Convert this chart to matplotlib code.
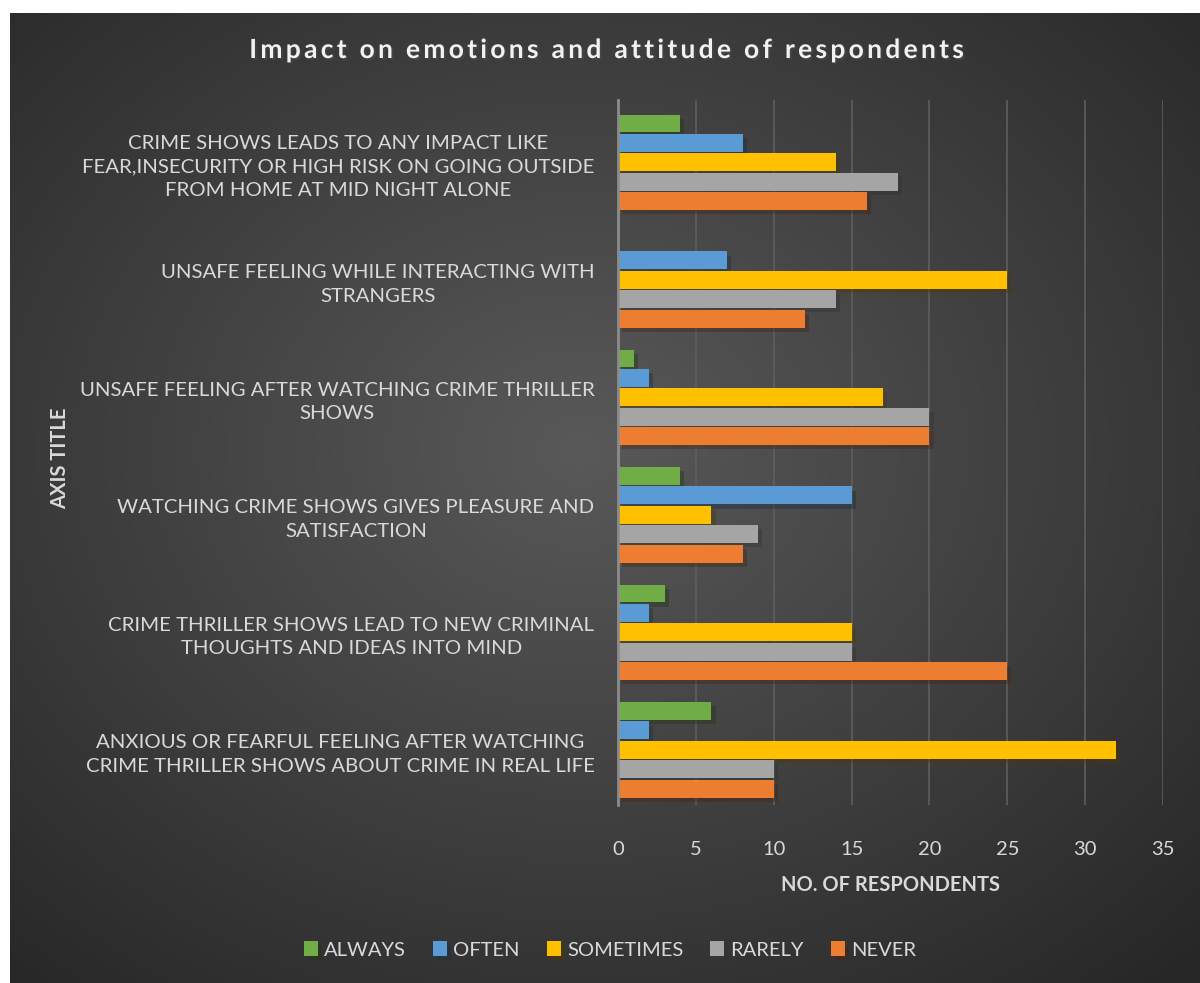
import numpy as np
import matplotlib
matplotlib.use('Agg')
import matplotlib.pyplot as plt
import matplotlib.patheffects as pe

plt.rcParams['font.family'] = ['Lato', 'DejaVu Sans']

# categories, top to bottom as shown
categories = [
    'CRIME SHOWS LEADS TO ANY IMPACT LIKE\nFEAR,INSECURITY OR HIGH RISK ON GOING OUTSIDE\nFROM HOME AT MID NIGHT ALONE',
    'UNSAFE FEELING WHILE INTERACTING WITH\nSTRANGERS',
    'UNSAFE FEELING AFTER WATCHING CRIME THRILLER\nSHOWS',
    'WATCHING CRIME SHOWS GIVES PLEASURE AND\nSATISFACTION',
    'CRIME THRILLER SHOWS LEAD TO NEW CRIMINAL\nTHOUGHTS AND IDEAS INTO MIND',
    'ANXIOUS OR FEARFUL FEELING AFTER WATCHING\nCRIME THRILLER SHOWS ABOUT CRIME IN REAL LIFE',
]
always = [4, 0, 1, 4, 3, 6]
often = [8, 7, 2, 15, 2, 2]
sometimes = [14, 25, 17, 6, 15, 32]
rarely = [18, 14, 20, 9, 15, 10]
never = [16, 12, 20, 8, 25, 10]

series_names = ['ALWAYS', 'OFTEN', 'SOMETIMES', 'RARELY', 'NEVER']
series_vals = [always, often, sometimes, rarely, never]
colors = ['#70AD47', '#5B9BD5', '#FFC000', '#A5A5A5', '#ED7D31']
txt = '#D9D9D9'
title = 'Impact on emotions and attitude of respondents'

fig = plt.figure(figsize=(12, 9.83), dpi=100)
fig.patch.set_facecolor('white')

# radial gradient background
bg = fig.add_axes([10 / 1200, 0, 1 - 10 / 1200, 1 - 13 / 983])
bg.set_axis_off()
xx, yy = np.meshgrid(np.linspace(0, 1, 400), np.linspace(0, 1, 330))
r = np.sqrt(((xx - 0.48) / 0.75) ** 2 + ((yy - 0.55) / 0.75) ** 2)
shade = np.clip(0.35 - 0.2 * r, 0.15, 0.35)
bg.imshow(np.dstack([shade] * 3), extent=[0, 1, 0, 1], aspect='auto', origin='lower')
bg.set_xlim(0, 1)
bg.set_ylim(0, 1)

ax = fig.add_axes([618 / 1200, 1 - 805 / 983, (1163 - 618) / 1200, (805 - 100) / 983])
ax.patch.set_alpha(0)

y = np.arange(len(categories))
pitch = 0.165
h = 0.153
for k, (name, vals, c) in enumerate(zip(series_names, series_vals, colors)):
    bars = ax.barh(y + (k - 2) * pitch, vals, height=h, color=c, label=name, zorder=3)
    for b in bars:
        b.set_path_effects([pe.SimplePatchShadow(offset=(3, -3), alpha=0.4), pe.Normal()])

ax.set_xlim(0, 35)
ax.set_ylim(5.47, -0.53)
ax.set_xticks(range(0, 36, 5))
ax.set_yticks(y)
ax.set_yticklabels(categories, linespacing=1.45)
for lab in ax.get_yticklabels():
    lab.set_multialignment('center')
ax.tick_params(axis='y', length=0, pad=17, labelsize=14.7, labelcolor=txt)
ax.tick_params(axis='x', length=0, pad=26, labelsize=14.5, labelcolor=txt)
ax.grid(axis='x', color='#5E5E5E', linewidth=1.2, zorder=0)
for s in ['top', 'right', 'bottom']:
    ax.spines[s].set_visible(False)
ax.spines['left'].set_color('#8C8C8C')
ax.spines['left'].set_linewidth(2)
ax.spines['left'].set_zorder(4)

ax.set_xlabel('NO. OF RESPONDENTS', color=txt, fontsize=14.5, fontweight='bold', labelpad=12)
fig.text(60 / 1200, 1 - 458 / 983, 'AXIS TITLE', rotation=90, color=txt, fontsize=14.5,
         fontweight='bold', ha='center', va='center')
# spaced-out title, as in the original
fig.text(605 / 1200, 1 - 50 / 983, '\u200a\u200a'.join(title), color='#F2F2F2',
         fontsize=19, fontweight='bold', ha='center', va='center',
         path_effects=[pe.withSimplePatchShadow(offset=(1.5, -1.5), alpha=0.6)])

fig.legend(loc='center', bbox_to_anchor=(610 / 1200, 1 - 950 / 983), ncol=5, frameon=False,
           fontsize=14.5, labelcolor=txt, handlelength=0.7, handleheight=0.7, handletextpad=0.3,
           columnspacing=1.35)

fig.savefig('out.png', dpi=100, facecolor=fig.get_facecolor())
